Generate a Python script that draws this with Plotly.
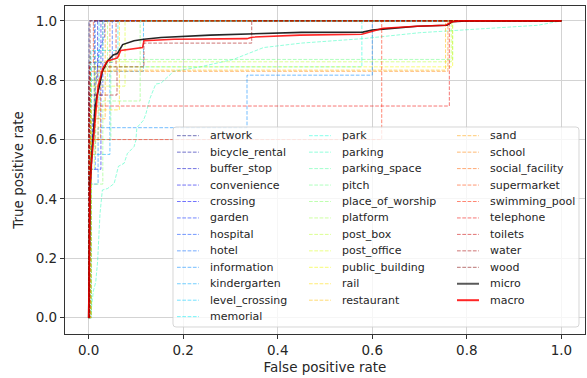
import plotly.graph_objects as go

# ---------------- data ----------------
classes = ["artwork", "bicycle_rental", "buffer_stop", "convenience", "crossing",
           "garden", "hospital", "hotel", "information", "kindergarten",
           "level_crossing", "memorial", "park", "parking", "parking_space",
           "pitch", "place_of_worship", "platform", "post_box", "post_office",
           "public_building", "rail", "restaurant", "sand", "school",
           "social_facility", "supermarket", "swimming_pool", "telephone",
           "toilets", "water", "wood"]

artwork_fpr = [0.0, 0.0, 0.001, 0.001, 1.0]
artwork_tpr = [0.0, 0.75, 0.75, 1.0, 1.0]
bicycle_rental_fpr = [0.0, 0.002, 0.008, 0.012, 0.012, 1.0]
bicycle_rental_tpr = [0.0, 0.33, 0.67, 0.67, 1.0, 1.0]
buffer_stop_fpr = [0.0, 0.004, 0.004, 0.019, 0.019, 1.0]
buffer_stop_tpr = [0.0, 0.0, 0.8, 0.8, 1.0, 1.0]
convenience_fpr = [0.0, 0.001, 0.026, 0.026, 1.0]
convenience_tpr = [0.0, 0.5, 0.5, 1.0, 1.0]
crossing_fpr = [0.0, 0.003, 0.008, 0.015, 0.022, 0.034, 0.034, 1.0]
crossing_tpr = [0.0, 0.33, 0.6, 0.78, 0.9, 0.95, 1.0, 1.0]
garden_fpr = [0.0, 0.002, 0.002, 0.03, 0.03, 1.0]
garden_tpr = [0.0, 0.0, 0.75, 0.75, 1.0, 1.0]
hospital_fpr = [0.0, 0.001, 0.001, 0.05, 0.05, 1.0]
hospital_tpr = [0.0, 0.0, 0.86, 0.86, 1.0, 1.0]
hotel_fpr = [0.0, 0.006, 0.006, 0.014, 0.014, 1.0]
hotel_tpr = [0.0, 0.0, 0.5, 0.5, 1.0, 1.0]
information_fpr = [0.0, 0.002, 0.02, 0.02, 0.335, 0.335, 0.6, 0.6, 1.0]
information_tpr = [0.0, 0.45, 0.45, 0.64, 0.64, 0.817, 0.817, 1.0, 1.0]
kindergarten_fpr = [0.0, 0.004, 0.045, 0.045, 0.116, 0.116, 1.0]
kindergarten_tpr = [0.0, 0.55, 0.55, 0.83, 0.83, 1.0, 1.0]
level_crossing_fpr = [0.0, 0.002, 0.002, 0.022, 0.022, 1.0]
level_crossing_tpr = [0.0, 0.0, 0.67, 0.67, 1.0, 1.0]
memorial_fpr = [0.0, 0.005, 0.005, 0.062, 0.062, 1.0]
memorial_tpr = [0.0, 0.0, 0.9, 0.9, 1.0, 1.0]
park_fpr = [0.0, 0.006, 0.006, 0.578, 0.578, 1.0]
park_tpr = [0.0, 0.0, 0.845, 0.845, 1.0, 1.0]
parking_fpr = [0.0, 0.005, 0.01, 0.015, 0.019, 0.024, 0.029, 0.04, 0.054, 0.058,
               0.063, 0.075, 0.082, 0.096, 0.1, 0.102, 0.116, 0.121, 0.13, 0.142,
               0.153, 0.18, 0.236, 0.306, 0.37, 0.45, 0.58, 0.7, 0.8, 0.95, 1.0]
parking_tpr = [0.0, 0.02, 0.09, 0.12, 0.19, 0.35, 0.43, 0.435, 0.452, 0.48,
               0.51, 0.52, 0.553, 0.576, 0.598, 0.64, 0.665, 0.686, 0.74, 0.787,
               0.79, 0.83, 0.845, 0.87, 0.91, 0.925, 0.94, 0.96, 0.97, 0.985, 1.0]
parking_space_fpr = [0.0, 0.003, 0.003, 0.03, 0.03, 1.0]
parking_space_tpr = [0.0, 0.0, 0.88, 0.88, 1.0, 1.0]
pitch_fpr = [0.0, 0.003, 0.047, 0.047, 0.77, 0.77, 1.0]
pitch_tpr = [0.0, 0.6, 0.6, 0.87, 0.87, 1.0, 1.0]
place_of_worship_fpr = [0.0, 0.004, 0.03, 0.03, 0.109, 0.109, 1.0]
place_of_worship_tpr = [0.0, 0.45, 0.45, 0.73, 0.73, 1.0, 1.0]
platform_fpr = [0.0, 0.005, 0.005, 0.04, 0.04, 1.0]
platform_tpr = [0.0, 0.0, 0.8, 0.8, 1.0, 1.0]
post_box_fpr = [0.0, 0.003, 0.012, 0.012, 0.767, 0.767, 1.0]
post_box_tpr = [0.0, 0.5, 0.5, 0.862, 0.862, 1.0, 1.0]
post_office_fpr = [0.0, 0.004, 0.004, 0.077, 0.077, 1.0]
post_office_tpr = [0.0, 0.0, 0.78, 0.78, 1.0, 1.0]
public_building_fpr = [0.0, 0.002, 0.015, 0.015, 0.77, 0.77, 1.0]
public_building_tpr = [0.0, 0.55, 0.55, 0.845, 0.845, 1.0, 1.0]
rail_fpr = [0.0, 0.006, 0.006, 0.065, 0.065, 1.0]
rail_tpr = [0.0, 0.0, 0.7, 0.7, 1.0, 1.0]
restaurant_fpr = [0.0, 0.003, 0.02, 0.02, 0.755, 0.755, 1.0]
restaurant_tpr = [0.0, 0.6, 0.6, 0.834, 0.834, 1.0, 1.0]
sand_fpr = [0.0, 0.001, 0.001, 0.035, 0.035, 1.0]
sand_tpr = [0.0, 0.0, 0.67, 0.67, 1.0, 1.0]
school_fpr = [0.0, 0.002, 0.025, 0.025, 0.76, 0.76, 1.0]
school_tpr = [0.0, 0.6, 0.6, 0.83, 0.83, 1.0, 1.0]
social_facility_fpr = [0.0, 0.004, 0.004, 0.045, 0.045, 1.0]
social_facility_tpr = [0.0, 0.0, 0.83, 0.83, 1.0, 1.0]
supermarket_fpr = [0.0, 0.001, 0.001, 0.01, 0.01, 1.0]
supermarket_tpr = [0.0, 0.0, 0.86, 0.86, 1.0, 1.0]
swimming_pool_fpr = [0.0, 0.001, 0.001, 0.62, 0.62, 1.0]
swimming_pool_tpr = [0.0, 0.0, 0.6, 0.6, 1.0, 1.0]
telephone_fpr = [0.0, 0.001, 0.001, 0.763, 0.763, 1.0]
telephone_tpr = [0.0, 0.0, 0.713, 0.713, 1.0, 1.0]
toilets_fpr = [0.0, 0.002, 0.002, 0.058, 0.058, 1.0]
toilets_tpr = [0.0, 0.0, 0.845, 0.845, 1.0, 1.0]
water_fpr = [0.0, 0.001, 0.001, 0.06, 0.06, 0.117, 0.117, 0.345, 0.345, 1.0]
water_tpr = [0.0, 0.0, 0.75, 0.75, 0.845, 0.845, 0.925, 0.925, 1.0, 1.0]
wood_fpr = [0.0, 0.0, 0.003, 0.003, 1.0]
wood_tpr = [0.0, 0.8, 0.8, 1.0, 1.0]

micro_fpr = [0.0, 0.001, 0.003, 0.006, 0.01, 0.014, 0.018, 0.022, 0.029, 0.04,
             0.052, 0.061, 0.072, 0.096, 0.117, 0.153, 0.257, 0.405, 0.45, 0.58,
             0.6, 0.623, 0.65, 0.695, 0.758, 0.769, 0.8, 1.0]
micro_tpr = [0.0, 0.3, 0.45, 0.53, 0.62, 0.71, 0.75, 0.775, 0.83, 0.865,
             0.885, 0.89, 0.92, 0.933, 0.938, 0.944, 0.952, 0.96, 0.961, 0.962,
             0.969, 0.972, 0.976, 0.982, 0.985, 0.997, 1.0, 1.0]
macro_fpr = [0.0, 0.001, 0.003, 0.006, 0.01, 0.015, 0.02, 0.03, 0.04, 0.061,
             0.068, 0.114, 0.117, 0.181, 0.335, 0.345, 0.447, 0.578, 0.6, 0.62,
             0.623, 0.695, 0.755, 0.769, 0.786, 1.0]
macro_tpr = [0.0, 0.28, 0.43, 0.52, 0.6, 0.7, 0.78, 0.84, 0.865, 0.875,
             0.9, 0.91, 0.933, 0.938, 0.94, 0.945, 0.952, 0.955, 0.965, 0.972,
             0.975, 0.982, 0.985, 0.997, 1.0, 1.0]

x_ticks = [0.0, 0.2, 0.4, 0.6, 0.8, 1.0]
y_ticks = [0.0, 0.2, 0.4, 0.6, 0.8, 1.0]

curves = {name: (globals()[name + "_fpr"], globals()[name + "_tpr"]) for name in classes}


# ---------------- styling helpers ----------------
def jet(t):
    def interp(pts):
        for (x0, y0), (x1, y1) in zip(pts, pts[1:]):
            if t <= x1:
                return y0 + (y1 - y0) * (t - x0) / (x1 - x0)
        return pts[-1][1]
    r = interp([(0, 0), (0.35, 0), (0.66, 1), (0.89, 1), (1, 0.5)])
    g = interp([(0, 0), (0.125, 0), (0.375, 1), (0.64, 1), (0.91, 0), (1, 0)])
    b = interp([(0, 0.5), (0.11, 1), (0.34, 1), (0.65, 0), (1, 0)])
    return r, g, b


def rgba(t, a):
    r, g, b = jet(t)
    return f"rgba({int(r*255)},{int(g*255)},{int(b*255)},{a})"


DASH = "3.7px,1.6px"
FONT = "DejaVu Sans"
n = len(classes)
class_colors = [rgba(i / (n - 1), 0.55) for i in range(n)]
MICRO_COLOR = "rgba(0,0,0,0.85)"
MACRO_COLOR = "rgba(255,0,0,0.85)"

fig = go.Figure()
for i, name in enumerate(classes):
    fx, fy = curves[name]
    fig.add_trace(go.Scatter(x=fx, y=fy, mode="lines", name=name, showlegend=False,
                             line=dict(color=class_colors[i], width=1, dash=DASH)))
fig.add_trace(go.Scatter(x=micro_fpr, y=micro_tpr, mode="lines", name="micro",
                         showlegend=False, line=dict(color=MICRO_COLOR, width=1.6)))
fig.add_trace(go.Scatter(x=macro_fpr, y=macro_tpr, mode="lines", name="macro",
                         showlegend=False, line=dict(color=MACRO_COLOR, width=1.6)))

# ---------------- layout ----------------
W, H = 587, 378
PL, PR, PT, PB = 65, 585, 6, 334


def pxx(px):
    return (px - PL) / (PR - PL)


def pyy(py):
    return (PB - py) / (PB - PT)


axis_common = dict(showline=True, linecolor="#333333", linewidth=1.2, mirror=True,
                   ticks="outside", ticklen=4, tickcolor="#333333", tickwidth=1.2,
                   showgrid=True, gridcolor="#d3d3d3", gridwidth=1.3, zeroline=False,
                   tickfont=dict(family=FONT, size=13.5, color="#262626"))

fig.update_layout(
    width=W, height=H,
    margin=dict(l=PL, r=W - PR, t=PT, b=H - PB, autoexpand=False),
    plot_bgcolor="white", paper_bgcolor="white",
    font=dict(family=FONT, color="#262626"),
    showlegend=False,
    xaxis=dict(range=[-0.05, 1.05], tickvals=x_ticks,
               ticktext=[f"{v:.1f}" for v in x_ticks],
               title=dict(text="False positive rate", standoff=5,
                          font=dict(family=FONT, size=13.5, color="#262626")),
               **axis_common),
    yaxis=dict(range=[-0.055, 1.05], tickvals=y_ticks,
               ticktext=[f"{v:.1f}" for v in y_ticks],
               title=dict(text="True positive rate", standoff=8,
                          font=dict(family=FONT, size=13.5, color="#262626")),
               **axis_common),
)

# ---------------- legend (matplotlib-style, 3 columns) ----------------
lx0, lx1, ly0, ly1 = 173, 579, 127, 327
rr = 3
x0p, x1p = pxx(lx0), pxx(lx1)
y0p, y1p = pyy(ly1), pyy(ly0)
dxr, dyr = rr / (PR - PL), rr / (PB - PT)
path = (f"M{x0p+dxr},{y0p} L{x1p-dxr},{y0p} Q{x1p},{y0p} {x1p},{y0p+dyr} "
        f"L{x1p},{y1p-dyr} Q{x1p},{y1p} {x1p-dxr},{y1p} L{x0p+dxr},{y1p} "
        f"Q{x0p},{y1p} {x0p},{y1p-dyr} L{x0p},{y0p+dyr} Q{x0p},{y0p} {x0p+dxr},{y0p} Z")
fig.add_shape(type="path", path=path, xref="paper", yref="paper", layer="above",
              fillcolor="rgba(255,255,255,0.8)", line=dict(color="rgba(204,204,204,0.8)", width=1))

entries = [(name, class_colors[i], DASH, 1) for i, name in enumerate(classes)]
entries += [("micro", "rgba(0,0,0,0.65)", "solid", 2), ("macro", MACRO_COLOR, "solid", 2)]
col_sizes = [12, 11, 11]
col_x = [177, 309, 457]
row0, row_step = 135.7, 16.45
k = 0
for c, size in enumerate(col_sizes):
    for r in range(size):
        name, color, dash, w = entries[k]
        k += 1
        yy = row0 + r * row_step
        fig.add_shape(type="line", xref="paper", yref="paper", layer="above",
                      x0=pxx(col_x[c]), x1=pxx(col_x[c] + 22), y0=pyy(yy), y1=pyy(yy),
                      line=dict(color=color, width=w, dash=dash))
        fig.add_annotation(x=pxx(col_x[c] + 31), y=pyy(yy), xref="paper", yref="paper",
                           text=name, showarrow=False, xanchor="left", yanchor="middle",
                           font=dict(family=FONT, size=11, color="#262626"))

fig.write_html("out.html", config={"displayModeBar": False},
               post_script="document.body.style.margin='0';document.body.style.overflow='hidden';")
